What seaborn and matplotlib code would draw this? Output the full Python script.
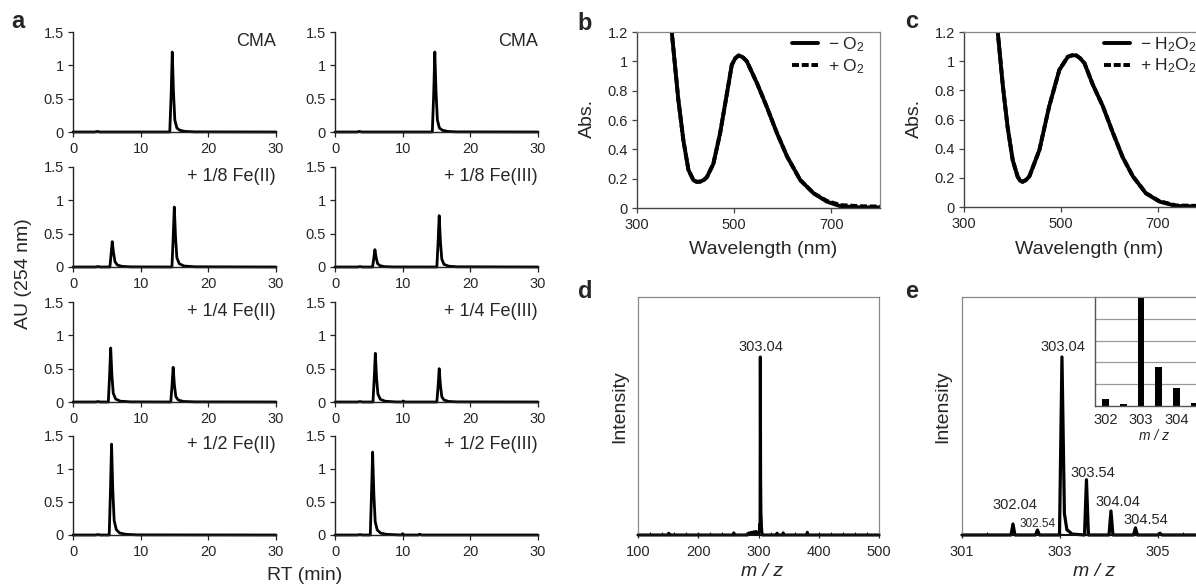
import matplotlib
matplotlib.use("Agg")
import matplotlib.pyplot as plt
import seaborn as sns
from matplotlib.ticker import MultipleLocator

# --- DATA ---
# HPLC traces (RT in min, AU at 254 nm)
cma_l_rt = [0, 3.2, 3.6, 4.0, 14.30, 14.50, 14.67, 14.85, 15.05, 15.35, 15.8, 16.6, 18.0, 30]
cma_l_au = [0, 0, 0.008, 0, 0, 0.55, 1.20, 0.60, 0.18, 0.06, 0.025, 0.008, 0.002, 0]

fe2_8_rt = [0, 3.3, 3.7, 4.1, 5.45, 5.62, 5.80, 5.98, 6.2, 6.55, 7.2, 8.5,
            14.62, 14.80, 14.97, 15.15, 15.35, 15.7, 16.4, 18, 30]
fe2_8_au = [0, 0, 0.006, 0, 0, 0.18, 0.38, 0.22, 0.08, 0.03, 0.01, 0.002,
            0, 0.42, 0.90, 0.45, 0.14, 0.05, 0.015, 0.003, 0]

fe2_4_rt = [0, 3.3, 3.7, 4.1, 5.22, 5.40, 5.57, 5.75, 5.95, 6.3, 7.0, 8.5,
            14.45, 14.63, 14.80, 14.98, 15.2, 15.55, 16.3, 18, 30]
fe2_4_au = [0, 0, 0.006, 0, 0, 0.38, 0.81, 0.40, 0.13, 0.045, 0.012, 0.002,
            0, 0.24, 0.52, 0.26, 0.08, 0.03, 0.008, 0.002, 0]

fe2_2_rt = [0, 3.3, 3.7, 4.1, 5.35, 5.53, 5.70, 5.88, 6.08, 6.4, 6.9, 7.8, 9.5, 30]
fe2_2_au = [0, 0, 0.006, 0, 0, 0.65, 1.37, 0.68, 0.22, 0.08, 0.03, 0.01, 0.002, 0]

cma_r_rt = [0, 3.2, 3.6, 4.0, 14.38, 14.58, 14.75, 14.93, 15.13, 15.43, 15.9, 16.7, 18.0, 30]
cma_r_au = [0, 0, 0.008, 0, 0, 0.55, 1.20, 0.60, 0.18, 0.06, 0.025, 0.008, 0.002, 0]

fe3_8_rt = [0, 3.3, 3.7, 4.1, 5.55, 5.72, 5.90, 6.08, 6.3, 6.65, 7.3, 8.5,
            15.05, 15.23, 15.40, 15.58, 15.78, 16.1, 16.8, 18, 30]
fe3_8_au = [0, 0, 0.006, 0, 0, 0.12, 0.26, 0.14, 0.05, 0.02, 0.006, 0.001,
            0, 0.36, 0.77, 0.38, 0.12, 0.04, 0.012, 0.003, 0]

fe3_4_rt = [0, 3.3, 3.7, 4.1, 5.61, 5.79, 5.96, 6.14, 6.34, 6.7, 7.4, 8.8,
            9.9, 10.1, 10.3, 15.05, 15.23, 15.40, 15.58, 15.78, 16.1, 16.8, 18, 30]
fe3_4_au = [0, 0, 0.006, 0, 0, 0.34, 0.73, 0.36, 0.12, 0.04, 0.012, 0.002,
            0, 0.015, 0, 0, 0.23, 0.50, 0.25, 0.08, 0.03, 0.008, 0.002, 0]

fe3_2_rt = [0, 3.3, 3.7, 4.1, 5.21, 5.39, 5.56, 5.74, 5.94, 6.25, 6.75, 7.6, 9.3,
            9.85, 10.0, 10.2, 12.3, 12.5, 12.8, 30]
fe3_2_au = [0, 0, 0.006, 0, 0, 0.60, 1.25, 0.62, 0.20, 0.075, 0.028, 0.01, 0.002,
            0, 0.02, 0, 0, 0.012, 0, 0]

hplc_left = [(cma_l_rt, cma_l_au), (fe2_8_rt, fe2_8_au), (fe2_4_rt, fe2_4_au), (fe2_2_rt, fe2_2_au)]
hplc_right = [(cma_r_rt, cma_r_au), (fe3_8_rt, fe3_8_au), (fe3_4_rt, fe3_4_au), (fe3_2_rt, fe3_2_au)]
labels_left = ["CMA", "+ 1/8 Fe(II)", "+ 1/4 Fe(II)", "+ 1/2 Fe(II)"]
labels_right = ["CMA", "+ 1/8 Fe(III)", "+ 1/4 Fe(III)", "+ 1/2 Fe(III)"]

# UV-vis, panel b
b_nm = [360, 371.5, 385, 395.5, 405.8, 416, 423, 430, 437, 443.7, 457, 471, 485, 495,
        502, 509, 517, 526, 547, 567, 588, 609, 636, 663.5, 691, 718.6, 760, 800]
b_abs_minus = [1.60, 1.20, 0.74, 0.46, 0.26, 0.19, 0.178, 0.18, 0.19, 0.21, 0.30, 0.51, 0.78, 0.975,
               1.02, 1.04, 1.03, 1.0, 0.85, 0.69, 0.51, 0.35, 0.19, 0.10, 0.043, 0.012, 0.004, 0.004]
b_abs_plus = [1.60, 1.20, 0.74, 0.46, 0.26, 0.19, 0.178, 0.18, 0.19, 0.21, 0.30, 0.51, 0.78, 0.975,
              1.02, 1.04, 1.03, 1.0, 0.85, 0.69, 0.51, 0.35, 0.19, 0.10, 0.048, 0.02, 0.012, 0.01]

# UV-vis, panel c
c_nm = [360, 369.7, 380, 390, 400.7, 411, 416, 421, 428, 435, 455.7, 476, 497, 514.5,
        523, 531.6, 540, 549, 566, 587, 607.5, 628, 649, 676, 704, 738, 779, 800]
c_abs_minus = [1.55, 1.20, 0.84, 0.55, 0.32, 0.207, 0.18, 0.173, 0.185, 0.21, 0.39, 0.69, 0.94, 1.03,
               1.04, 1.04, 1.02, 0.985, 0.84, 0.69, 0.51, 0.34, 0.21, 0.093, 0.037, 0.007, 0.004, 0.004]
c_abs_plus = [1.55, 1.20, 0.84, 0.55, 0.32, 0.207, 0.18, 0.173, 0.185, 0.21, 0.39, 0.69, 0.94, 1.03,
              1.04, 1.04, 1.02, 0.985, 0.84, 0.69, 0.51, 0.34, 0.21, 0.095, 0.04, 0.011, 0.008, 0.008]

# MS, panel d (relative intensity)
d_mz = [100, 150, 151, 152, 258, 259, 260, 282, 284, 286, 288, 290, 292, 294, 296, 298, 300,
        301.5, 302.04, 302.6, 303.04, 303.54, 304.04, 305, 306, 330, 331, 332, 340, 341, 342,
        380, 381, 382, 500]
d_int = [0, 0, 0.01, 0, 0, 0.012, 0, 0, 0.012, 0.005, 0.015, 0.008, 0.018, 0.01, 0.02, 0.008, 0.01,
         0.02, 0.06, 0.03, 1.0, 0.31, 0.13, 0.04, 0, 0, 0.01, 0, 0, 0.012, 0, 0, 0.015, 0, 0]
d_peak = (303.04, 1.0, "303.04")

# MS, panel e (zoom)
e_mz = [301.0, 302.00, 302.04, 302.08, 302.50, 302.54, 302.58, 302.99, 303.04, 303.09, 303.14, 303.25,
        303.50, 303.54, 303.58, 304.00, 304.04, 304.08, 304.50, 304.54, 304.58, 305.0, 305.04, 305.08, 307]
e_int = [0, 0, 0.062, 0, 0, 0.028, 0, 0, 1.0, 0.12, 0.03, 0.005,
         0, 0.31, 0, 0, 0.135, 0, 0, 0.04, 0, 0, 0.01, 0, 0]
e_peak_mz = [302.04, 302.54, 303.04, 303.54, 304.04, 304.54]
e_peak_int = [0.062, 0.028, 1.0, 0.31, 0.135, 0.04]
e_peak_lab = ["302.04", "302.54", "303.04", "303.54", "304.04", "304.54"]

# isotope pattern inset
inset_mz = [302, 302.5, 303, 303.5, 304, 304.5, 305]
inset_rel = [0.064, 0.015, 1.0, 0.36, 0.165, 0.03, 0.01]

# --- STYLE ---
sns.set_style("ticks")
plt.rcParams["font.family"] = ["Liberation Sans", "DejaVu Sans"]
plt.rcParams["mathtext.fontset"] = "custom"
plt.rcParams["mathtext.rm"] = "Liberation Sans"
plt.rcParams["mathtext.it"] = "Liberation Sans:italic"

W, H = 1196, 585
fig = plt.figure(figsize=(W / 100, H / 100), dpi=100)


def box(x0, x1, y0, y1):
    return [x0 / W, 1 - y1 / H, (x1 - x0) / W, (y1 - y0) / H]


TICK = 10.5
LAB = 14

# --- PANEL a: HPLC ---
rows = [(32, 132), (167, 267), (302, 402), (435.5, 535)]
cols = [(73, 276, hplc_left, labels_left), (335, 538, hplc_right, labels_right)]
for x0, x1, traces, labs in cols:
    for (y0, y1), (rt, au), lab in zip(rows, traces, labs):
        ax = fig.add_axes(box(x0, x1, y0, y1))
        sns.lineplot(x=rt, y=au, ax=ax, color="black", linewidth=2.0,
                     estimator=None, sort=False, clip_on=False)
        ax.set_xlim(0, 30)
        ax.set_ylim(0, 1.5)
        ax.set_xticks([0, 10, 20, 30])
        ax.set_yticks([0, 0.5, 1, 1.5])
        ax.set_yticklabels(["0", "0.5", "1", "1.5"])
        for s in ["top", "right"]:
            ax.spines[s].set_visible(False)
        for s in ["left", "bottom"]:
            ax.spines[s].set_color("#222222")
            ax.spines[s].set_linewidth(1.0)
        ax.tick_params(labelsize=TICK, length=3.5, width=0.9, color="#222222", pad=3)
        ax.tick_params(axis="x", pad=4)
        ax.text(1.0, 0.99, lab, transform=ax.transAxes, ha="right", va="top", fontsize=13)

fig.text(24 / W, 1 - 274 / H, "AU (254 nm)", rotation=90, ha="center", va="center", fontsize=LAB)
fig.text(305 / W, 1 - 575 / H, "RT (min)", ha="center", va="center", fontsize=LAB)


# --- PANELS b, c: UV-vis ---
def uv_panel(rect, nm, minus, plus, lab_minus, lab_plus, leg_x):
    ax = fig.add_axes(rect)
    sns.lineplot(x=nm, y=plus, ax=ax, color="black", linewidth=2.8, estimator=None, sort=False)
    h_plus = ax.lines[-1]
    h_plus.set_dashes([1.8, 0.7])
    sns.lineplot(x=nm, y=minus, ax=ax, color="black", linewidth=2.8, estimator=None, sort=False)
    h_minus = ax.lines[-1]
    ax.set_xlim(300, 800)
    ax.set_ylim(0, 1.2)
    ax.set_xticks([300, 500, 700])
    ax.set_yticks([0, 0.2, 0.4, 0.6, 0.8, 1, 1.2])
    ax.set_yticklabels(["0", "0.2", "0.4", "0.6", "0.8", "1", "1.2"])
    for s in ["left", "bottom"]:
        ax.spines[s].set_color("#444444")
        ax.spines[s].set_linewidth(1.0)
    for s in ["top", "right"]:
        ax.spines[s].set_color("#888888")
        ax.spines[s].set_linewidth(0.9)
    ax.tick_params(labelsize=TICK, length=3.5, width=0.9, color="#444444", pad=3)
    ax.tick_params(axis="x", pad=4)
    ax.legend([h_minus, h_plus], [lab_minus, lab_plus], loc="upper left",
              bbox_to_anchor=(leg_x, 0.99), frameon=False, fontsize=12.5,
              handlelength=1.5, handletextpad=0.6, labelspacing=0.15,
              borderpad=0.1, borderaxespad=0)
    return ax


uv_panel(box(637, 880, 32, 208), b_nm, b_abs_minus, b_abs_plus,
         "\u2212 O$_2$", "+ O$_2$", 0.63)
uv_panel(box(964, 1206, 32, 207), c_nm, c_abs_minus, c_abs_plus,
         "\u2212 H$_2$O$_2$", "+ H$_2$O$_2$", 0.57)

for xc in [587, 914]:
    fig.text(xc / W, 1 - 118 / H, "Abs.", rotation=90, ha="center", va="center", fontsize=LAB)
for xc in [763, 1089]:
    fig.text(xc / W, 1 - 250 / H, "Wavelength (nm)", ha="center", va="center", fontsize=LAB)


# --- PANELS d, e: MS ---
def ms_frame(ax):
    for s in ["left", "top", "right"]:
        ax.spines[s].set_color("#888888")
        ax.spines[s].set_linewidth(0.9)
    ax.spines["bottom"].set_color("#111111")
    ax.spines["bottom"].set_linewidth(1.5)
    ax.set_yticks([])
    ax.tick_params(axis="x", which="major", labelsize=TICK, length=4, width=0.9,
                   color="#222222", direction="inout", pad=5)
    ax.tick_params(axis="x", which="minor", length=2.5, width=0.8, color="#222222", direction="in")


ax_d = fig.add_axes(box(638, 879, 297, 535))
sns.lineplot(x=d_mz, y=d_int, ax=ax_d, color="black", linewidth=2.2,
             estimator=None, sort=False, clip_on=False)
ax_d.set_xlim(100, 500)
ax_d.set_ylim(0, 1.337)
ax_d.set_xticks([100, 200, 300, 400, 500])
ax_d.xaxis.set_minor_locator(MultipleLocator(20))
ms_frame(ax_d)
ax_d.annotate(d_peak[2], (d_peak[0], d_peak[1]), xytext=(1, 6), textcoords="offset pixels",
              ha="center", va="baseline", fontsize=10.5)

ax_e = fig.add_axes(box(962, 1256, 297, 535))
sns.lineplot(x=e_mz, y=e_int, ax=ax_e, color="black", linewidth=2.3,
             estimator=None, sort=False, clip_on=False)
ax_e.set_xlim(301, 307)
ax_e.set_ylim(0, 1.337)
ax_e.set_xticks([301, 303, 305])
ax_e.xaxis.set_minor_locator(MultipleLocator(0.5))
ms_frame(ax_e)
e_offsets = [(2, 15), (0, 3), (1, 6), (6, 3), (7, 5), (10, 4)]
for mz, it, lab, off in zip(e_peak_mz, e_peak_int, e_peak_lab, e_offsets):
    ax_e.annotate(lab, (mz, it), xytext=off, textcoords="offset pixels", ha="center",
                  va="baseline", fontsize=8.5 if lab == "302.54" else 10.5)

# inset isotope pattern
ax_in = fig.add_axes(box(1095, 1223, 297, 406))
ax_in.set_facecolor("white")
sns.barplot(x=inset_mz, y=inset_rel, ax=ax_in, native_scale=True, color="black",
            width=0.38, errorbar=None, linewidth=0, saturation=1)
ax_in.set_xlim(301.71, 305.3)
ax_in.set_ylim(0, 1)
ax_in.set_xticks([302, 303, 304])
ax_in.set_xticklabels(["302", "303", "304"])
ax_in.set_yticks([0.2, 0.4, 0.6, 0.8, 1.0])
ax_in.set_yticklabels([])
ax_in.grid(axis="y", color="#999999", linewidth=0.9)
ax_in.set_axisbelow(True)
ax_in.tick_params(length=0, labelsize=TICK, pad=5)
ax_in.set_xlabel("")
ax_in.set_ylabel("")
for s in ["left", "bottom"]:
    ax_in.spines[s].set_color("#555555")
    ax_in.spines[s].set_linewidth(1.0)
for s in ["top", "right"]:
    ax_in.spines[s].set_color("#888888")
fig.text(1154 / W, 1 - 436 / H, "m / z", style="italic", ha="center", va="center", fontsize=10)

for xc in [620, 943]:
    fig.text(xc / W, 1 - 407 / H, "Intensity", rotation=90, ha="center", va="center", fontsize=LAB)
for xc in [762, 1094]:
    fig.text(xc / W, 1 - 572 / H, "m / z", style="italic", ha="center", va="center", fontsize=LAB)

# panel letters
for lab, xl, yl in [("a", 18, 22), ("b", 585, 24), ("c", 912, 21), ("d", 585, 291), ("e", 912, 292)]:
    fig.text(xl / W, 1 - yl / H, lab, fontweight="bold", ha="center", va="center", fontsize=17)

fig.savefig("out.png", dpi=100)
